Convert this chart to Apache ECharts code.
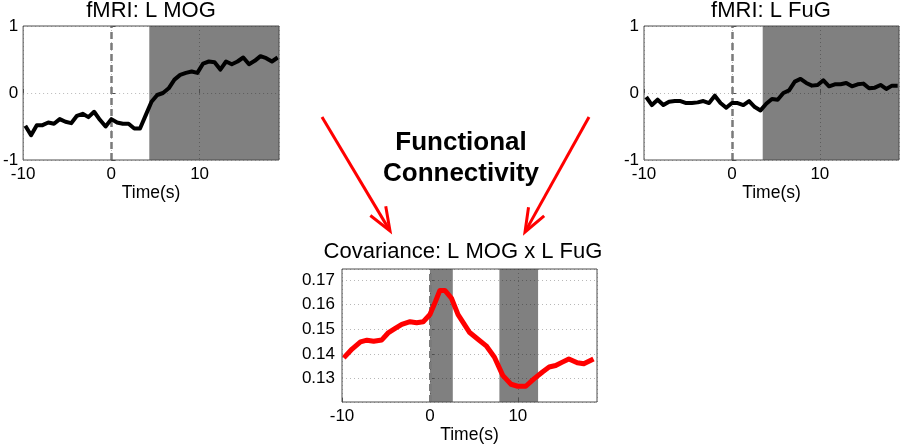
<!DOCTYPE html>
<html>
<head>
<meta charset="utf-8">
<script src="https://cdn.jsdelivr.net/npm/echarts@6/dist/echarts.min.js"></script>
<style>
html,body{margin:0;padding:0;background:#fff;}
#chart{width:900px;height:445px;}
</style>
</head>
<body>
<div id="chart"></div>
<script>
// ---- data ----
const fmriTime = [-9.75,-9.1,-8.45,-7.8,-7.15,-6.5,-5.85,-5.2,-4.55,-3.9,-3.25,-2.6,-1.95,-1.3,-0.65,0,0.65,1.3,1.95,2.6,3.25,3.9,4.55,5.2,5.85,6.5,7.15,7.8,8.45,9.1,9.75,10.4,11.05,11.7,12.35,13,13.65,14.3,14.95,15.6,16.25,16.9,17.55,18.2,18.85];
const mogValues = [-0.49,-0.63,-0.48,-0.48,-0.44,-0.46,-0.39,-0.43,-0.45,-0.34,-0.31,-0.36,-0.28,-0.40,-0.50,-0.39,-0.44,-0.46,-0.46,-0.53,-0.53,-0.33,-0.13,-0.03,0.00,0.07,0.20,0.27,0.30,0.32,0.30,0.44,0.47,0.46,0.35,0.47,0.43,0.47,0.53,0.43,0.48,0.55,0.52,0.47,0.53];
const fugValues = [-0.06,-0.18,-0.10,-0.18,-0.13,-0.12,-0.12,-0.15,-0.15,-0.14,-0.12,-0.15,-0.04,-0.15,-0.22,-0.15,-0.15,-0.18,-0.12,-0.21,-0.26,-0.16,-0.09,-0.10,0.00,0.04,0.17,0.21,0.15,0.11,0.12,0.19,0.10,0.13,0.13,0.15,0.10,0.13,0.14,0.07,0.08,0.12,0.06,0.11,0.11];
const covTime = [-9.8,-8.86,-7.9,-7.16,-6.4,-5.47,-4.71,-3.95,-3.2,-2.26,-1.51,-0.76,0,0.63,1.13,1.7,2.44,3.2,4.52,5.46,6.4,7.34,8.28,9.22,9.98,10.9,11.86,12.8,13.56,14.3,15.06,15.8,16.76,17.5,18.6];
const covValues = [0.1384,0.1420,0.1449,0.1456,0.1452,0.1457,0.1487,0.1504,0.1520,0.1531,0.1527,0.1531,0.1560,0.1613,0.1658,0.1658,0.1627,0.1560,0.1487,0.1460,0.1433,0.1387,0.1313,0.1277,0.1269,0.1269,0.1300,0.1327,0.1347,0.1353,0.1367,0.1380,0.1364,0.1360,0.1380];
const mogShade = [[4.3, 19]];
const fugShade = [[3.5, 19]];
const covShade = [[0, 2.6], [7.9, 12.3]];
const onsetTime = 0;
const timeRange = [-10, 19];
const fmriRange = [-1, 1];
const covRange = [0.1205, 0.1745];
const panelTitles = ['fMRI: L MOG', 'fMRI: L FuG', 'Covariance: L MOG x L FuG'];
const centerText = 'Functional\nConnectivity';
const xName = 'Time(s)';

// ---- styling ----
const FONT = '"Liberation Sans", Arial, Helvetica, sans-serif';
const BORDER = '#4d4d4d';
const SHADE = '#808080';
const GRIDLINE = 'rgba(0,0,0,0.28)';

const grids = [
  {left: 23, top: 26, width: 256, height: 134},
  {left: 644, top: 26, width: 255, height: 134},
  {left: 342, top: 269, width: 255, height: 134}
].map(g => Object.assign(g, {show: true, z: 10, borderColor: BORDER, borderWidth: 1, backgroundColor: 'transparent', containLabel: false}));

function xAxis(i, nameGap) {
  return {
    type: 'value', gridIndex: i, min: timeRange[0], max: timeRange[1], interval: 10, z: 3,
    name: xName, nameLocation: 'middle', nameGap: nameGap,
    nameTextStyle: {fontSize: 17.5, fontFamily: FONT, color: '#000'},
    axisLine: {show: false},
    axisTick: {show: true, inside: true, length: 4, lineStyle: {color: BORDER}},
    axisLabel: {fontSize: 17, fontFamily: FONT, color: '#000', margin: 6, showMaxLabel: false},
    splitLine: {show: true, lineStyle: {color: GRIDLINE, type: [1, 3], width: 1}}
  };
}
function yAxisF(i) {
  return {
    type: 'value', gridIndex: i, min: fmriRange[0], max: fmriRange[1], interval: 1, z: 3,
    axisLine: {show: false},
    axisTick: {show: true, inside: true, length: 4, lineStyle: {color: BORDER}},
    axisLabel: {fontSize: 17, fontFamily: FONT, color: '#000', margin: 5},
    splitLine: {show: true, lineStyle: {color: GRIDLINE, type: [1, 3], width: 1}}
  };
}
const yAxisC = {
  type: 'value', gridIndex: 2, min: covRange[0], max: covRange[1], splitNumber: 5, z: 3,
  axisLine: {show: false},
  axisTick: {show: true, inside: true, length: 4, lineStyle: {color: BORDER}},
  axisLabel: {fontSize: 17, fontFamily: FONT, color: '#000', margin: 7, showMinLabel: false, showMaxLabel: false,
    formatter: v => v.toFixed(2)},
  splitLine: {show: true, lineStyle: {color: GRIDLINE, type: [1, 3], width: 1}}
};

const zip = (t, v) => t.map((x, k) => [x, v[k]]);

function panelSeries(i, data, shades, color, width) {
  return [
    { // shading
      type: 'line', xAxisIndex: i, yAxisIndex: i, data: data, symbol: 'none', silent: true, z: 1,
      lineStyle: {opacity: 0}, tooltip: {show: false},
      markArea: {silent: true, itemStyle: {color: SHADE}, label: {show: false},
        data: shades.map(s => [{xAxis: s[0]}, {xAxis: s[1]}])}
    },
    { // onset marker
      type: 'line', xAxisIndex: i, yAxisIndex: i, data: data, symbol: 'none', silent: true, z: 4,
      lineStyle: {opacity: 0},
      markLine: {silent: true, symbol: ['none', 'none'], label: {show: false},
        lineStyle: {color: '#7a7a7a', type: [7, 4], width: i === 2 ? 3 : 2.5},
        data: [{xAxis: onsetTime}]}
    },
    { // data line
      type: 'line', xAxisIndex: i, yAxisIndex: i, data: data, symbol: 'none', z: 5,
      lineStyle: {color: color, width: width, join: 'round'}
    }
  ];
}

// arrows (decoration)
function arrow(x1, y1, x2, y2) {
  const dx = x2 - x1, dy = y2 - y1, L = Math.hypot(dx, dy);
  const ux = dx / L, uy = dy / L, len = 25, a = 21 * Math.PI / 180;
  const w = s => {
    const c = Math.cos(s * a), sn = Math.sin(s * a);
    return [x2 - len * (ux * c - uy * sn), y2 - len * (ux * sn + uy * c)];
  };
  const st = {stroke: '#ff0000', lineWidth: 3, fill: null, lineJoin: 'miter', lineCap: 'butt'};
  return [
    {type: 'polyline', shape: {points: [[x1, y1], [x2 - ux * 1, y2 - uy * 1]]}, style: st},
    {type: 'polyline', shape: {points: [w(1), [x2, y2], w(-1)]}, style: st}
  ];
}

const titleFont = '22px ' + FONT;
const graphic = [
  {type: 'text', x: 151, y: 11, style: {text: panelTitles[0], font: titleFont, fill: '#000', align: 'center', verticalAlign: 'middle'}},
  {type: 'text', x: 771, y: 11, style: {text: panelTitles[1], font: titleFont, fill: '#000', align: 'center', verticalAlign: 'middle'}},
  {type: 'text', x: 463, y: 252, style: {text: panelTitles[2], font: titleFont, fill: '#000', align: 'center', verticalAlign: 'middle'}},
  {type: 'text', x: 461, y: 158, style: {text: centerText, font: 'bold 26px ' + FONT, lineHeight: 31, fill: '#000', align: 'center', verticalAlign: 'middle'}}
].concat(arrow(322, 117, 390, 231), arrow(589, 117, 525, 232));

const chart = echarts.init(document.getElementById('chart'), null, {renderer: 'canvas'});
chart.setOption({
  animation: false,
  backgroundColor: '#fff',
  grid: grids,
  xAxis: [xAxis(0, 22), xAxis(1, 22), xAxis(2, 24)],
  yAxis: [yAxisF(0), yAxisF(1), yAxisC],
  series: [].concat(
    panelSeries(0, zip(fmriTime, mogValues), mogShade, '#000', 4),
    panelSeries(1, zip(fmriTime, fugValues), fugShade, '#000', 4),
    panelSeries(2, zip(covTime, covValues), covShade, '#ff0000', 5)
  ),
  graphic: graphic
});
</script>
</body>
</html>
